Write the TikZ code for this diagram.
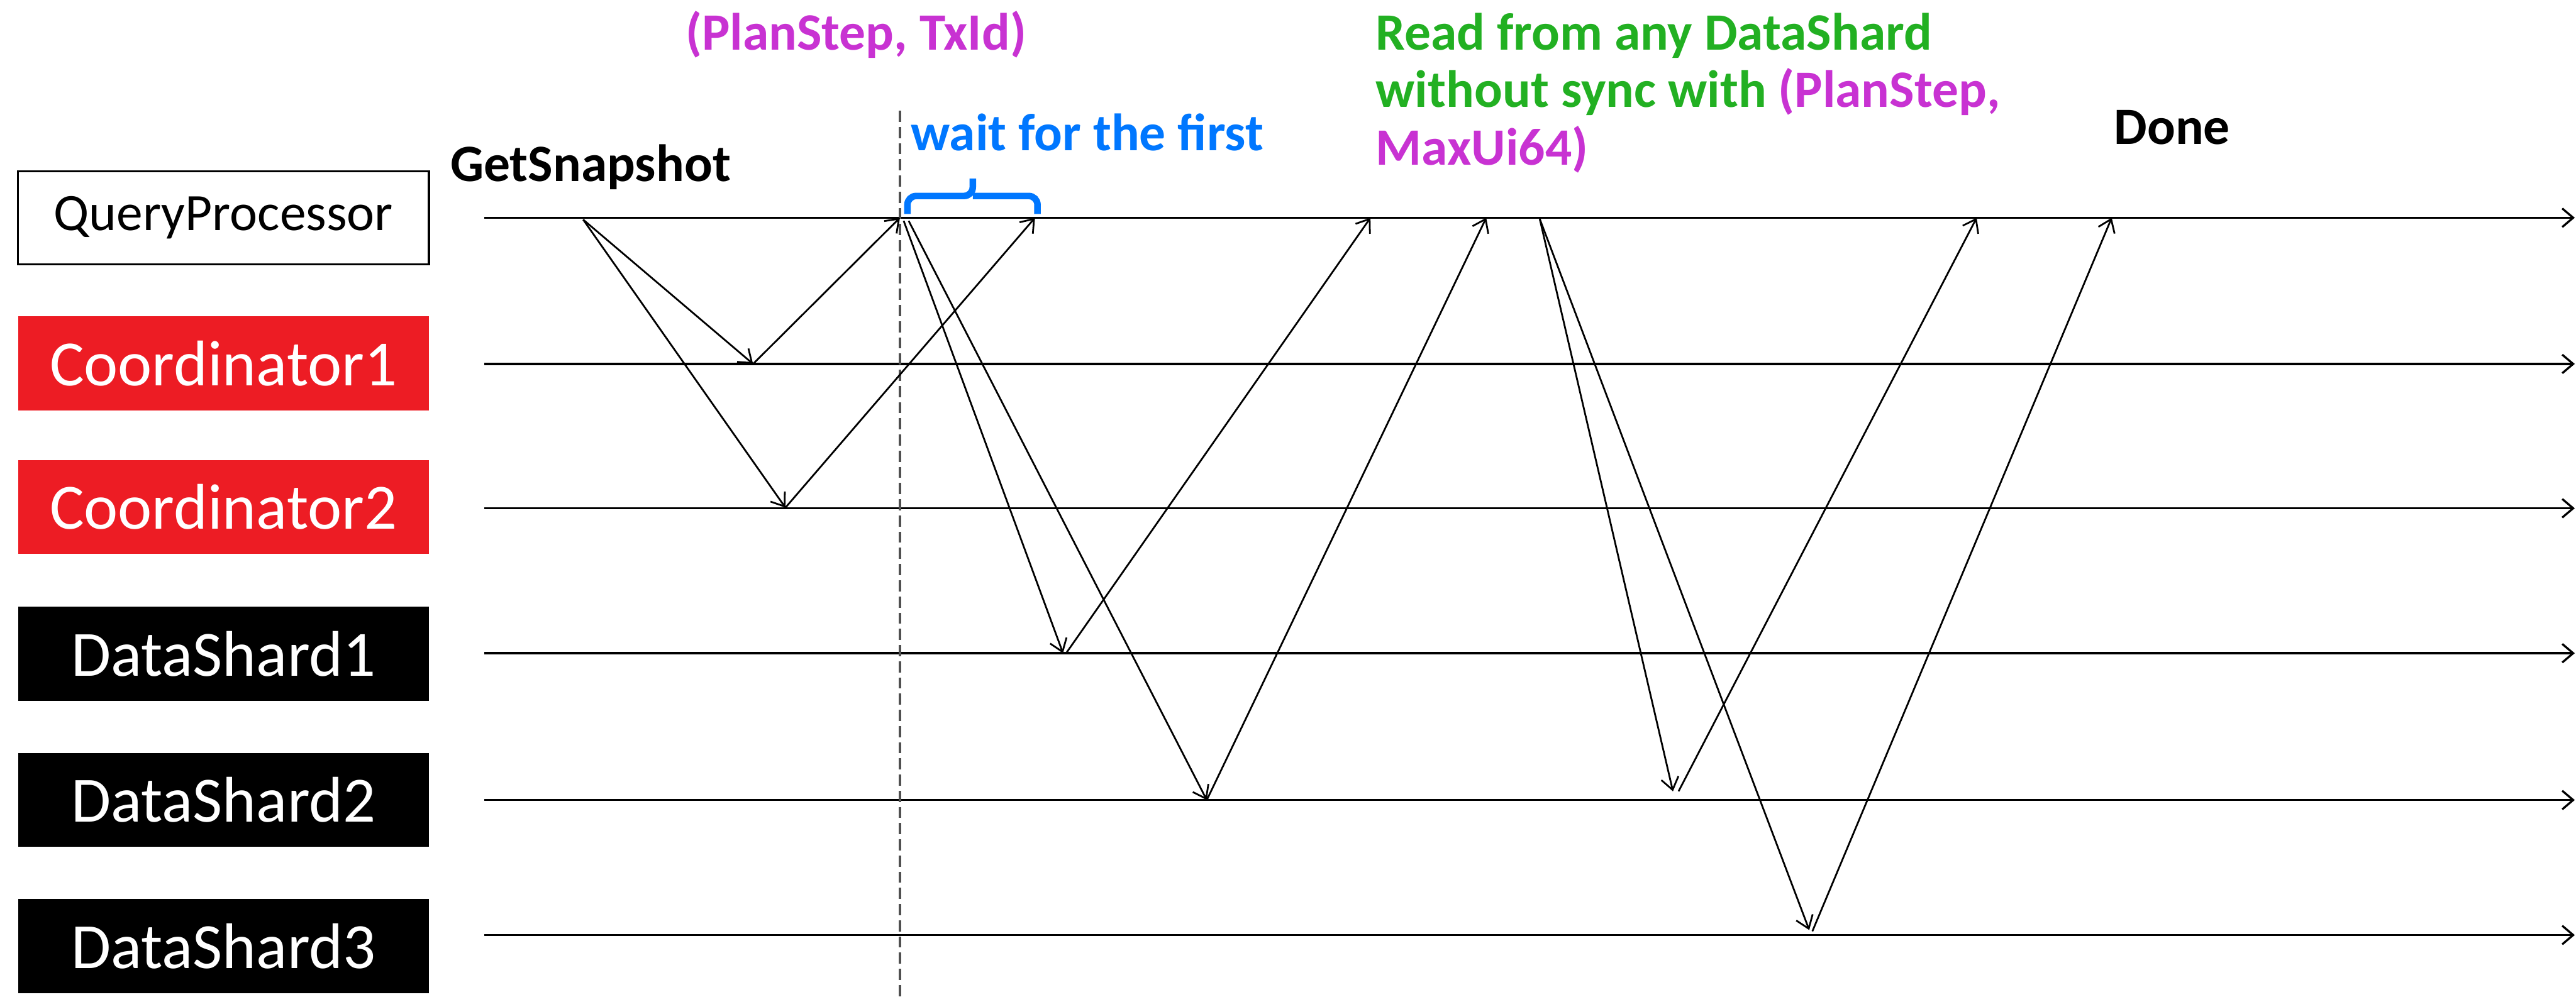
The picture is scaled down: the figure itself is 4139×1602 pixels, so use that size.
\documentclass[tikz,border=0pt]{standalone}
\usepackage{fontspec}
\setmainfont{Carlito}
\usetikzlibrary{arrows.meta}
\definecolor{coordred}{HTML}{ED1C24}
\definecolor{waitblue}{HTML}{0077FF}
\definecolor{stamp}{HTML}{C832D2}
\definecolor{readgreen}{HTML}{22B022}
\definecolor{guide}{HTML}{505050}

\begin{document}
\begin{tikzpicture}[
  x=0.01cm, y=-0.01cm,
  actor/.style={minimum width=6.6cm, minimum height=1.51cm, inner sep=0pt,
                font=\fontsize{29.5}{32}\selectfont, text=white},
  timeline/.style={line width=0.95pt, -{Straight Barb[length=5pt, width=8.5pt]}},
  msg/.style={line width=0.8pt, -{Straight Barb[length=5.5pt, width=8pt]}},
  note/.style={anchor=base west, inner sep=0pt, align=left,
               font=\fontsize{24}{26.3}\selectfont\bfseries}
]
  \useasboundingbox (0,0) rectangle (4139,1602);

  % Participants
  \node[draw, line width=0.9pt, minimum width=6.6cm, minimum height=1.5cm,
        font=\fontsize{24}{26}\selectfont] (qp) at (359,350) {QueryProcessor};
  \node[actor, fill=coordred] (c1) at (359,584) {Coordinator1};
  \node[actor, fill=coordred] (c2) at (359,815) {Coordinator2};
  \node[actor, fill=black] (ds1) at (359,1051) {DataShard1};
  \node[actor, fill=black] (ds2) at (359,1286) {DataShard2};
  \node[actor, fill=black] (ds3) at (359,1521) {DataShard3};

  % Timelines
  \foreach \n/\y in {qp/350, c1/585, c2/817, ds1/1050, ds2/1286, ds3/1503} {
    \coordinate (\n-s) at (778,\y);
    \coordinate (\n-e) at (4137,\y);
    \draw[timeline] (\n-s) -- (\n-e);
  }

  % First snapshot received
  \coordinate (wtop) at (1446,178);
  \coordinate (wbot) at (1446,1602);
  \draw[guide, line width=1.4pt, dash pattern=on 5.1pt off 2.3pt] (wtop) -- (wbot);

  % Events
  \coordinate (snap) at (937,353);
  \coordinate (c1in) at (1210,585);
  \coordinate (c2in) at (1262,816);
  \coordinate (first) at (1446,350);
  \coordinate (second) at (1663,350);
  \coordinate (rd1) at (1452,355);
  \coordinate (rd2) at (1460,355);
  \coordinate (ds1in) at (1708,1050);
  \coordinate (ds1out) at (1713,1050);
  \coordinate (ds2in) at (1939,1286);
  \coordinate (ans1) at (2202,350);
  \coordinate (ans2) at (2388,350);
  \coordinate (any) at (2474,352);
  \coordinate (ds2b) at (2688,1272);
  \coordinate (ds2c) at (2697,1272);
  \coordinate (ds3in) at (2907,1495);
  \coordinate (ds3out) at (2912,1497);
  \coordinate (ans3) at (3176,350);
  \coordinate (ans4) at (3393,350);

  % Messages
  \draw[msg] (snap) -- (c1in);
  \draw[msg] (snap) -- (c2in);
  \draw[msg] (c1in) -- (first);
  \draw[msg] (c2in) -- (second);
  \draw[msg] (rd1) -- (ds1in);
  \draw[msg] (rd2) -- (ds2in);
  \draw[msg] (ds1out) -- (ans1);
  \draw[msg] (ds2in) -- (ans2);
  \draw[msg] (any) -- (ds2b);
  \draw[msg] (any) -- (ds3in);
  \draw[msg] (ds2c) -- (ans3);
  \draw[msg] (ds3out) -- (ans4);

  % Brace
  \coordinate (bl) at (1458,344);
  \coordinate (br) at (1667,344);
  \coordinate (bt) at (1563,287);
  \draw[waitblue, line width=3pt, rounded corners=4pt] (bl) |- (1563,315) -- (bt);
  \draw[waitblue, line width=3pt, rounded corners=4pt] (br) |- (1563,315);

  % Labels
  \node[note] (getsnap) at (723,292) {GetSnapshot};
  \node[note, text=stamp] (planstep) at (1101,80) {(PlanStep, TxId)};
  \node[note, text=waitblue] (wait) at (1463,242) {wait for the first};
  \node[note, text=readgreen] (read) at (2210,265)
    {Read from any DataShard\\without sync with \textcolor{stamp}{(PlanStep,}\\\textcolor{stamp}{MaxUi64)}};
  \node[note] (done) at (3396,232) {Done};
\end{tikzpicture}
\end{document}
